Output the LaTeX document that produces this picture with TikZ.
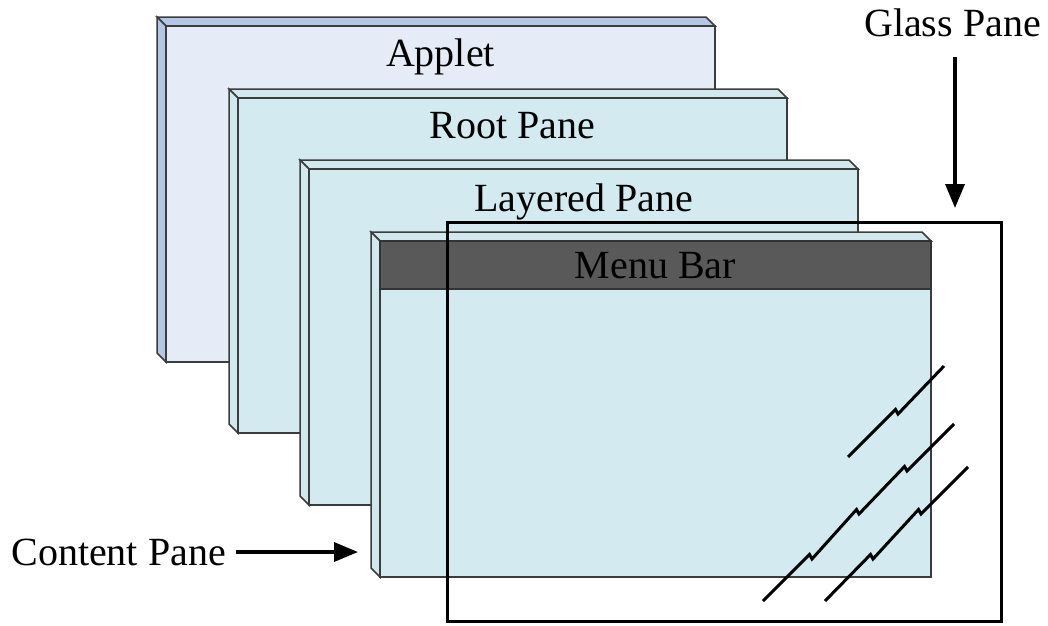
\documentclass[tikz,border=0pt]{standalone}
\usepackage{fontspec}
\setmainfont{Liberation Serif}
\usetikzlibrary{arrows.meta}

\definecolor{appletface}{HTML}{E6ECF7}
\definecolor{appletbevel}{HTML}{B3C6E5}
\definecolor{paneface}{HTML}{D3EBF0}
\definecolor{panebevel}{HTML}{D0E8EE}
\definecolor{paneedge}{HTML}{3C3C3C}
\definecolor{menubar}{HTML}{595959}

% A bevelled pane: outer corner (#1,#2), front face ends at (#3,#4)
\newcommand{\bevelpane}[6]{%
  \filldraw[paneedge, line width=1.5pt, line join=miter, fill=#6]
    (#1,#2) -- (#3-9,#2) -- (#3,#2+9) -- (#1+9,#2+9) -- cycle;
  \filldraw[paneedge, line width=1.5pt, line join=miter, fill=#6]
    (#1,#2) -- (#1+9,#2+9) -- (#1+9,#4) -- (#1,#4-9) -- cycle;
  \filldraw[paneedge, line width=1.5pt, fill=#5]
    (#1+9,#2+9) rectangle (#3,#4);
}

\tikzset{
  label/.style={font=\fontsize{40}{44}\selectfont, inner sep=0pt, anchor=base},
  pointer/.style={line width=3.5pt, -{Triangle[length=24pt,width=19pt]}},
  glass/.style={line width=3pt, line join=miter},
  streak/.style={line width=3pt, line join=miter}
}

\begin{document}
\begin{tikzpicture}[x=1pt, y=-1pt]
  \useasboundingbox (0,0) rectangle (1048,625);

  % stacked panes, back to front
  \bevelpane{157}{17}{715}{362}{appletface}{appletbevel}
  \bevelpane{229}{89}{787}{433}{paneface}{panebevel}
  \bevelpane{300}{160}{858}{505}{paneface}{panebevel}
  \bevelpane{371}{232}{931}{577}{paneface}{panebevel}

  % menu bar across the top of the content pane
  \filldraw[draw=black!80, line width=1.5pt, fill=menubar] (380,241) rectangle (931,289);

  \node[label] (applet) at (440.5,66) {Applet};
  \node[label] (root) at (512.5,138) {Root Pane};
  \node[label] (layered) at (583.5,211) {Layered Pane};
  \node[label] (menu) at (655.5,278) {Menu Bar};

  % glass pane outline
  \draw[glass] (447,222) rectangle (1001,621);

  % glare streaks on the glass
  \draw[streak] (848,457) -- (895.5,409.5) -- (898,414) -- (944,366);
  \draw[streak] (763,601) -- (809.5,554.5) -- (812,559) -- (856.5,509.5)
                -- (859,514) -- (904.5,466.5) -- (907,471) -- (954,424);
  \draw[streak] (825,601) -- (870.5,554.5) -- (873,559) -- (918.5,509.5)
                -- (921,514) -- (968,467);

  % callouts
  \node[label] (glasslbl) at (952.5,36) {Glass Pane};
  \coordinate (glasstip) at (955,208);
  \draw[pointer] (glasslbl.south -| glasstip) ++(0,20) -- (glasstip);

  \node[label, anchor=base east] (contentlbl) at (226,565) {Content Pane};
  \coordinate (contenttip) at (358,552);
  \draw[pointer] (contentlbl.east |- contenttip) ++(10,0) -- (contenttip);
\end{tikzpicture}
\end{document}
